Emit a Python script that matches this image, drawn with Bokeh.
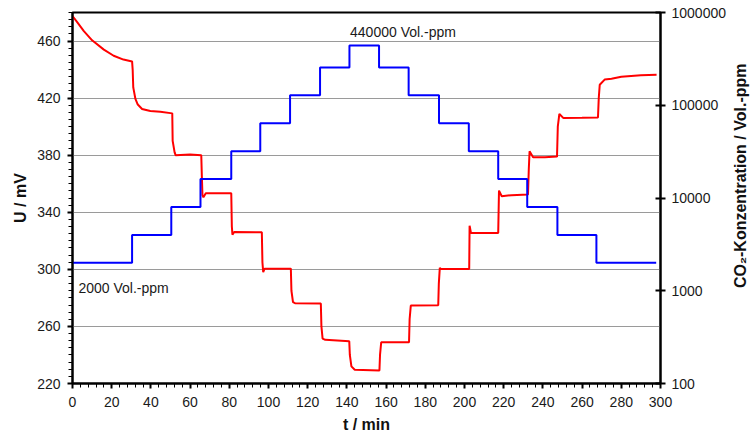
import math

from bokeh.plotting import figure
from bokeh.layouts import row
from bokeh.models import (Range1d, LogScale, LogAxis, FixedTicker, NumeralTickFormatter,
                          Label)
from bokeh.embed import file_html
from bokeh.resources import INLINE

# Sensor voltage (red), t in min, U in mV
t_red = [0, 2, 5.8, 10, 16, 21, 26, 30.4, 30.7, 31.0, 32.1, 33.3, 35.5, 39.7, 44.8, 50.9,
         51.1, 52.1, 52.6, 60, 65.7, 66.0, 66.3, 66.8, 68, 81.0, 81.3, 81.6, 82.5, 96.6,
         96.9, 97.3, 98, 111.4, 111.7, 112.5, 113.5, 126.7, 127.0, 127.6, 129, 141.2,
         141.5, 142.3, 144, 156.6, 156.9, 157.5, 171.7, 172.0, 172.6, 186.6, 186.9, 187.4,
         188, 202.4, 202.6, 203.3, 217.2, 217.6, 219, 224, 232.4, 232.8, 233.2, 235, 241,
         247.2, 247.6, 248.4, 250.5, 260, 268.1, 268.5, 269, 271.5, 275, 280, 290, 298]
u_red = [477.5, 474, 467, 460.5, 454, 449.7, 447, 445.7, 440, 427.5, 419.4, 415.5, 412.4,
         411, 410.5, 409.3, 390, 382, 380, 380.5, 380, 365, 352, 350.5, 353.3, 353.3, 330,
         324.3, 326.2, 326, 305, 298, 300.5, 300.5, 285, 277, 276.3, 276, 260, 251.5, 250.6,
         249.6, 240, 232, 229.6, 229.1, 240, 248.9, 248.9, 265, 274.6, 274.9, 290, 301,
         300.3, 300.3, 330.6, 325.5, 325.5, 355.2, 351.2, 352, 352.4, 370, 382.7, 378.5,
         378.6, 379, 400, 408.9, 406, 406.2, 406.5, 420, 429.4, 433, 433.6, 435, 436, 436.3]

# CO2 concentration steps (blue), switching times in min and levels in Vol.-ppm
t_blue = [0, 30.4, 50.4, 65.3, 81.0, 95.8, 111.0, 126.3, 141.3, 156.4, 171.5, 187.0,
          202.2, 217.2, 232.0, 247.4, 267.3, 297.8]
ppm_blue = [2000, 4000, 8000, 16000, 32000, 64000, 128000, 256000, 440000, 256000,
            128000, 64000, 32000, 16000, 8000, 4000, 2000, 2000]

x_ticks = list(range(0, 301, 20))
u_ticks = [220, 260, 300, 340, 380, 420, 460]
ppm_ticks = [100, 1000, 10000, 100000, 1000000]

FONT = "Liberation Sans"
TITLE_STRIP = 22  # width of the strip holding the right-hand axis title

p = figure(width=751 - TITLE_STRIP, height=443, x_range=Range1d(0, 300),
           y_range=Range1d(220, 480),
           extra_y_ranges={"ppm": Range1d(100, 1000000)},
           extra_y_scales={"ppm": LogScale()},
           output_backend="svg", toolbar_location=None)

p.min_border_left = 72
p.min_border_right = 751 - TITLE_STRIP - 661
p.min_border_top = 12
p.min_border_bottom = 60
p.background_fill_color = "white"
p.border_fill_color = "white"
p.outline_line_color = "black"
p.outline_line_width = 2

# grid
p.xgrid.visible = False
p.ygrid.ticker = FixedTicker(ticks=u_ticks)
p.ygrid.grid_line_color = "#9a9a9a"
p.ygrid.grid_line_width = 1

# bottom axis
xa = p.xaxis[0]
xa.ticker = FixedTicker(ticks=x_ticks, minor_ticks=list(range(0, 301, 4)))
xa.axis_label = "t / min"

# left axis
ya = p.yaxis[0]
ya.ticker = FixedTicker(ticks=u_ticks, minor_ticks=list(range(220, 481, 5)))
ya.axis_label = "U / mV"

# right log axis for the CO2 concentration
ra = LogAxis(y_range_name="ppm",
             ticker=FixedTicker(ticks=ppm_ticks),
             formatter=NumeralTickFormatter(format="0"))
p.add_layout(ra, "right")

for ax in (xa, ya, ra):
    ax.axis_line_color = "black"
    ax.axis_line_width = 2
    ax.major_tick_line_color = "black"
    ax.major_tick_line_width = 2
    ax.minor_tick_line_color = "black"
    ax.minor_tick_line_width = 1
    ax.major_tick_in = 0
    ax.major_tick_out = 5
    ax.minor_tick_in = 0
    ax.minor_tick_out = 4
    ax.major_label_text_font = FONT
    ax.major_label_text_font_size = "14px"
    ax.major_label_text_color = "#1a1a1a"
    ax.axis_label_text_font = FONT
    ax.axis_label_text_font_size = "16px"
    ax.axis_label_text_font_style = "bold"
    ax.axis_label_text_color = "#111111"

ra.major_tick_in = 5
ra.minor_tick_line_color = None
xa.major_label_standoff = 8
xa.axis_label_standoff = 6
ya.major_label_standoff = 7
ya.axis_label_standoff = 5
ra.major_label_standoff = 6

p.line(t_red, u_red, line_color="#ff0000", line_width=2)
p.step(t_blue, ppm_blue, mode="after", y_range_name="ppm", line_color="#0000ff",
       line_width=2)

p.add_layout(Label(x=3, y=287, text="2000 Vol.-ppm", text_font=FONT,
                   text_font_size="14px", text_baseline="middle", text_color="#1a1a1a"))
p.add_layout(Label(x=168.6, y=466.5, text="440000 Vol.-ppm", text_font=FONT,
                   text_font_size="14px", text_baseline="middle", text_align="center",
                   text_color="#1a1a1a"))

# narrow strip carrying the right axis title, reading bottom-to-top
t = figure(width=TITLE_STRIP, height=443, x_range=Range1d(0, 1), y_range=Range1d(0, 443),
           x_axis_location=None, y_axis_location=None,
           output_backend="svg", toolbar_location=None)
t.min_border = 0
t.outline_line_color = None
t.grid.visible = False
t.background_fill_color = "white"
t.border_fill_color = "white"
t.add_layout(Label(x=0.5, y=443 - 195, angle=math.pi / 2,
                   text="CO\u2082-Konzentration / Vol.-ppm", text_font=FONT,
                   text_font_size="16px", text_font_style="bold", text_align="center",
                   text_baseline="middle", text_color="#111111"))

layout = row(p, t, spacing=0)
open("out.html", "w").write(file_html(layout, INLINE))
